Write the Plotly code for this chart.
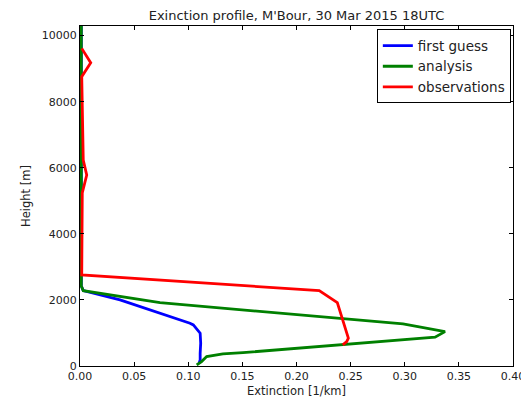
import plotly.graph_objects as go

# first guess (blue)
fg_height = [85, 185, 387, 690, 992, 1243, 1295, 1597, 1999, 2281, 2420, 10290]
fg_ext = [0.110, 0.111, 0.111, 0.1115, 0.111, 0.1047, 0.1016, 0.0739, 0.037, 0.003, 0.0012, 0.0012]

# analysis (green)
an_height = [33, 133, 284, 366, 405, 871, 1040, 1273, 1918, 2281, 2420, 10290]
an_ext = [0.1078, 0.1123, 0.117, 0.132, 0.1506, 0.328, 0.3372, 0.2984, 0.0739, 0.003, 0.0012, 0.0012]

# observations (red)
ob_height = [638, 738, 841, 1918, 2281, 2756, 5236, 5780, 6234, 8754, 9177, 9613]
ob_ext = [0.2427, 0.2464, 0.2479, 0.2377, 0.221, 0.0016, 0.0021, 0.0062, 0.003, 0.0016, 0.0099, 0.0016]

x_ticks = [0.00, 0.05, 0.10, 0.15, 0.20, 0.25, 0.30, 0.35, 0.40]
y_ticks = [0, 2000, 4000, 6000, 8000, 10000]
y_tick_text = ["0", "2000", "4000", "6000", "8000", "10000"]

FONT = "DejaVu Sans"
LW = 2.8

fig = go.Figure()
fig.add_trace(go.Scatter(x=fg_ext, y=fg_height, mode="lines", name="first guess",
                         line=dict(color="#0000ff", width=LW)))
fig.add_trace(go.Scatter(x=an_ext, y=an_height, mode="lines", name="analysis",
                         line=dict(color="#008000", width=LW)))
fig.add_trace(go.Scatter(x=ob_ext, y=ob_height, mode="lines", name="observations",
                         line=dict(color="#ff0000", width=LW)))

axis_common = dict(showline=True, linecolor="black", linewidth=1, mirror="ticks",
                   ticks="inside", ticklen=4, tickcolor="black", showgrid=False,
                   zeroline=False, automargin=False,
                   tickfont=dict(family=FONT, size=11, color="#222"))

# page body has an 8px margin, so the figure is shrunk/shifted to compensate
W, H = 521, 393
fig.update_layout(
    width=W, height=H,
    margin=dict(l=72, r=16, t=18, b=35),
    paper_bgcolor="white", plot_bgcolor="white",
    font=dict(family=FONT, color="#222"),
    title=dict(text="Exinction profile, M'Bour, 30 Mar 2015 18UTC",
               xref="paper", x=0.5, xanchor="center", y=1 - 7 / H, yanchor="middle",
               font=dict(family=FONT, size=13, color="#222")),
    xaxis=dict(range=[0, 0.40], tickvals=x_ticks, tickformat=".2f",
               title=dict(text="Extinction [1/km]", font=dict(family=FONT, size=11.5), standoff=4),
               **axis_common),
    yaxis=dict(range=[0, 10290], tickvals=y_ticks, ticktext=y_tick_text,
               title=dict(text="Height [m]", font=dict(family=FONT, size=11.5), standoff=8),
               **axis_common),
    legend=dict(x=0.995, xanchor="right", y=0.99, yanchor="top",
                bgcolor="white", bordercolor="black", borderwidth=1,
                font=dict(family=FONT, size=13.5, color="#222"), tracegroupgap=0),
    showlegend=True,
)

fig.write_html("out.html")
